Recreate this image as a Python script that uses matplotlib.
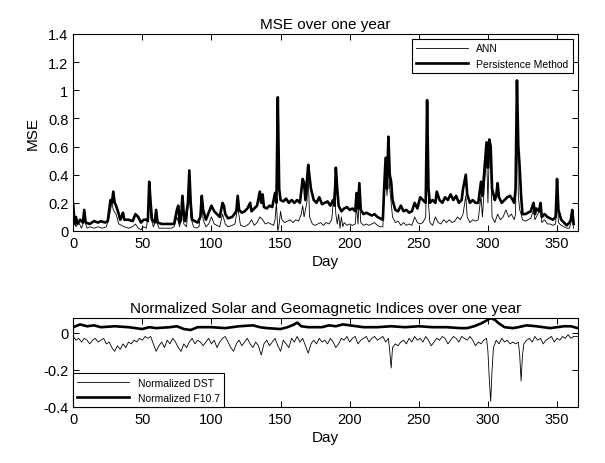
import matplotlib
matplotlib.use("Agg")
import matplotlib.pyplot as plt
from matplotlib.ticker import FormatStrFormatter

plt.rcParams['font.family'] = ['Liberation Sans', 'DejaVu Sans']

# MSE over one year (top panel)
pm_day = [0, 1, 2, 3, 5, 7, 8, 9, 12, 15, 18, 20, 23, 25, 26, 27, 28, 29, 30, 31, 33, 34, 35, 36, 37, 40,
          43, 45, 47, 49, 51, 53, 54, 55, 56, 57, 59, 60, 61, 64, 67, 70, 73, 75, 76, 77, 78, 79, 80, 81,
          83, 84, 85, 86, 88, 90, 92, 93, 94, 96, 98, 100, 102, 104, 106, 108, 109, 110, 112, 115, 118,
          119, 120, 122, 124, 126, 128, 129, 131, 133, 135, 136, 137, 138, 140, 142, 144, 146, 147, 148,
          149, 150, 152, 154, 156, 158, 160, 162, 164, 166, 167, 168, 170, 171, 172, 174, 176, 178, 180,
          182, 184, 186, 188, 189, 190, 191, 192, 194, 196, 198, 200, 202, 204, 205, 206, 207, 208, 210,
          212, 214, 216, 218, 220, 222, 224, 225, 226, 227, 228, 229, 230, 231, 233, 235, 237, 239, 241,
          243, 245, 247, 249, 251, 253, 255, 256, 257, 258, 260, 262, 263, 265, 267, 269, 271, 273, 275,
          277, 279, 281, 282, 284, 285, 287, 289, 291, 293, 295, 296, 298, 299, 300, 301, 302, 303, 305,
          306, 307, 308, 310, 312, 314, 316, 318, 319, 320, 321, 322, 323, 324, 325, 327, 329, 331, 333,
          334, 335, 337, 338, 339, 341, 343, 345, 347, 349, 350, 351, 353, 355, 357, 359, 360, 361, 362]
pm_mse = [0.19, 0.05, 0.10, 0.05, 0.08, 0.06, 0.15, 0.06, 0.05, 0.07, 0.06, 0.07, 0.06, 0.07, 0.15, 0.22,
          0.20, 0.28, 0.20, 0.18, 0.12, 0.08, 0.10, 0.13, 0.08, 0.08, 0.07, 0.12, 0.10, 0.06, 0.08, 0.08,
          0.07, 0.35, 0.20, 0.08, 0.06, 0.15, 0.06, 0.05, 0.05, 0.05, 0.05, 0.15, 0.18, 0.06, 0.08, 0.25,
          0.12, 0.07, 0.20, 0.43, 0.20, 0.08, 0.07, 0.06, 0.10, 0.25, 0.15, 0.08, 0.13, 0.18, 0.14, 0.12,
          0.10, 0.20, 0.18, 0.12, 0.09, 0.10, 0.14, 0.25, 0.15, 0.13, 0.14, 0.16, 0.20, 0.14, 0.16, 0.18,
          0.28, 0.20, 0.26, 0.17, 0.16, 0.18, 0.17, 0.27, 0.20, 0.95, 0.30, 0.22, 0.21, 0.23, 0.20, 0.22,
          0.20, 0.22, 0.20, 0.37, 0.34, 0.22, 0.47, 0.38, 0.30, 0.22, 0.20, 0.24, 0.19, 0.20, 0.21, 0.18,
          0.22, 0.18, 0.45, 0.30, 0.18, 0.14, 0.16, 0.17, 0.15, 0.16, 0.14, 0.27, 0.16, 0.34, 0.15, 0.12,
          0.13, 0.12, 0.11, 0.12, 0.10, 0.09, 0.08, 0.32, 0.52, 0.30, 0.67, 0.40, 0.35, 0.22, 0.15, 0.14,
          0.18, 0.14, 0.15, 0.13, 0.14, 0.20, 0.16, 0.24, 0.22, 0.20, 0.93, 0.30, 0.20, 0.22, 0.20, 0.28,
          0.22, 0.20, 0.24, 0.22, 0.26, 0.22, 0.25, 0.20, 0.22, 0.30, 0.40, 0.26, 0.20, 0.22, 0.20, 0.20,
          0.35, 0.25, 0.50, 0.63, 0.45, 0.65, 0.60, 0.30, 0.22, 0.25, 0.34, 0.24, 0.20, 0.22, 0.24, 0.25,
          0.22, 0.20, 0.30, 1.07, 0.60, 0.45, 0.25, 0.12, 0.12, 0.13, 0.14, 0.20, 0.12, 0.16, 0.14, 0.20,
          0.10, 0.12, 0.10, 0.09, 0.08, 0.10, 0.37, 0.15, 0.08, 0.06, 0.04, 0.06, 0.08, 0.15, 0.05]

ann_day = [0, 2, 4, 6, 8, 10, 12, 15, 18, 21, 24, 26, 28, 29, 31, 33, 35, 37, 40, 43, 45, 47, 49, 51, 53,
           55, 56, 58, 60, 62, 65, 68, 71, 73, 75, 77, 79, 80, 82, 84, 85, 87, 89, 91, 93, 94, 96, 98, 100,
           102, 104, 106, 108, 110, 112, 115, 117, 119, 121, 124, 127, 129, 131, 133, 135, 137, 139, 141,
           143, 145, 146, 147, 148, 149, 150, 151, 153, 155, 157, 159, 161, 163, 165, 166, 167, 169, 170,
           171, 173, 175, 177, 179, 181, 183, 185, 187, 189, 190, 191, 192, 193, 194, 195, 196, 198, 200,
           202, 204, 205, 206, 207, 208, 210, 212, 214, 216, 218, 220, 222, 224, 225, 226, 227, 228, 229,
           230, 231, 233, 235, 237, 239, 241, 243, 245, 247, 249, 251, 253, 255, 256, 257, 258, 260, 262,
           264, 266, 268, 270, 272, 274, 276, 278, 280, 282, 284, 285, 287, 289, 291, 293, 295, 296, 298,
           299, 300, 301, 302, 303, 305, 307, 309, 311, 313, 315, 317, 319, 320, 321, 322, 323, 324, 325,
           327, 329, 331, 333, 334, 336, 338, 339, 341, 343, 345, 347, 349, 350, 351, 353, 355, 357, 359,
           361, 362]
ann_mse = [0.08, 0.03, 0.06, 0.02, 0.08, 0.02, 0.03, 0.02, 0.03, 0.02, 0.03, 0.10, 0.20, 0.15, 0.12, 0.05,
           0.04, 0.03, 0.02, 0.03, 0.05, 0.02, 0.01, 0.03, 0.02, 0.20, 0.10, 0.03, 0.08, 0.02, 0.02, 0.02,
           0.02, 0.03, 0.10, 0.03, 0.18, 0.05, 0.03, 0.30, 0.10, 0.03, 0.02, 0.03, 0.20, 0.08, 0.03, 0.05,
           0.10, 0.05, 0.04, 0.03, 0.12, 0.05, 0.03, 0.04, 0.05, 0.17, 0.04, 0.03, 0.05, 0.08, 0.04, 0.06,
           0.10, 0.08, 0.05, 0.06, 0.05, 0.04, 0.08, 0.20, 0.00, 0.05, 0.14, 0.08, 0.06, 0.07, 0.08, 0.06,
           0.08, 0.07, 0.12, 0.18, 0.10, 0.20, 0.38, 0.10, 0.05, 0.04, 0.05, 0.06, 0.04, 0.06, 0.05, 0.08,
           0.30, 0.12, 0.05, 0.12, 0.02, 0.10, 0.03, 0.06, 0.04, 0.05, 0.04, 0.05, 0.18, 0.05, 0.26, 0.06,
           0.04, 0.05, 0.04, 0.05, 0.06, 0.04, 0.03, 0.03, 0.28, 0.40, 0.25, 0.50, 0.30, 0.20, 0.10, 0.06,
           0.07, 0.04, 0.06, 0.04, 0.05, 0.04, 0.10, 0.06, 0.05, 0.06, 0.10, 0.85, 0.20, 0.06, 0.04, 0.10,
           0.06, 0.05, 0.08, 0.06, 0.08, 0.06, 0.07, 0.10, 0.08, 0.12, 0.25, 0.10, 0.06, 0.08, 0.07, 0.08,
           0.25, 0.10, 0.40, 0.55, 0.20, 0.55, 0.50, 0.10, 0.06, 0.12, 0.08, 0.10, 0.15, 0.10, 0.12, 0.08,
           0.12, 0.95, 0.25, 0.15, 0.12, 0.08, 0.07, 0.08, 0.09, 0.15, 0.08, 0.12, 0.15, 0.06, 0.08, 0.05,
           0.05, 0.04, 0.05, 0.28, 0.06, 0.04, 0.03, 0.02, 0.02, 0.10, 0.02]

# Normalized indices (bottom panel)
f107_day = [0, 5, 10, 15, 20, 30, 40, 50, 55, 60, 70, 75, 80, 85, 90, 100, 110, 120, 130, 135, 140, 150,
            155, 160, 162, 165, 170, 180, 185, 190, 195, 200, 205, 210, 220, 230, 240, 250, 260, 270, 280,
            285, 290, 295, 300, 302, 305, 308, 312, 318, 322, 328, 335, 340, 345, 350, 355, 360, 365]
f107_val = [0.030, 0.045, 0.035, 0.040, 0.030, 0.035, 0.030, 0.020, 0.030, 0.025, 0.030, 0.035, 0.020,
            0.015, 0.030, 0.030, 0.025, 0.035, 0.040, 0.030, 0.025, 0.020, 0.030, 0.045, 0.055, 0.035,
            0.030, 0.030, 0.040, 0.035, 0.045, 0.040, 0.035, 0.030, 0.030, 0.035, 0.030, 0.035, 0.030,
            0.030, 0.025, 0.025, 0.035, 0.050, 0.070, 0.078, 0.070, 0.050, 0.030, 0.025, 0.030, 0.040,
            0.035, 0.030, 0.025, 0.030, 0.035, 0.035, 0.025]

dst_day = [0, 2, 4, 6, 8, 10, 12, 14, 16, 18, 20, 22, 24, 26, 28, 30, 32, 34, 36, 38, 40, 42, 44, 46, 48,
           50, 52, 54, 56, 58, 60, 62, 64, 66, 68, 70, 72, 74, 76, 78, 80, 82, 84, 86, 88, 90, 92, 94, 96,
           98, 100, 102, 104, 106, 108, 110, 112, 114, 116, 118, 120, 122, 124, 126, 128, 130, 132, 134,
           136, 138, 140, 142, 144, 146, 148, 150, 152, 154, 156, 158, 160, 162, 164, 166, 168, 170, 172,
           174, 176, 178, 180, 182, 184, 186, 188, 190, 192, 194, 196, 198, 200, 202, 204, 206, 208, 210,
           212, 214, 216, 218, 220, 222, 224, 226, 228, 229, 230, 231, 233, 235, 237, 239, 241, 243, 245,
           247, 249, 251, 253, 255, 257, 259, 261, 263, 265, 267, 269, 271, 273, 275, 277, 279, 281, 283,
           285, 287, 289, 291, 293, 295, 297, 299, 300, 301, 302, 303, 304, 306, 308, 310, 312, 314, 316,
           318, 320, 322, 323, 324, 325, 326, 328, 330, 332, 334, 336, 338, 340, 342, 344, 346, 348, 350,
           352, 354, 356, 358, 360, 362, 365]
dst_val = [-0.02, -0.04, -0.03, -0.05, -0.03, -0.04, -0.06, -0.04, -0.03, -0.05, -0.04, -0.03, -0.06,
           -0.05, -0.08, -0.10, -0.07, -0.09, -0.06, -0.08, -0.05, -0.06, -0.04, -0.05, -0.03, -0.04,
           -0.02, -0.03, -0.02, -0.06, -0.10, -0.07, -0.05, -0.08, -0.04, -0.06, -0.03, -0.05, -0.08,
           -0.10, -0.06, -0.08, -0.05, -0.03, -0.06, -0.04, -0.05, -0.07, -0.05, -0.03, -0.06, -0.04,
           -0.08, -0.05, -0.03, -0.02, -0.05, -0.08, -0.10, -0.06, -0.04, -0.07, -0.05, -0.03, -0.06,
           -0.08, -0.05, -0.07, -0.12, -0.06, -0.04, -0.07, -0.05, -0.03, -0.07, -0.10, -0.04, -0.06,
           -0.08, -0.03, -0.05, -0.02, -0.05, -0.03, -0.07, -0.11, -0.06, -0.04, -0.06, -0.03, -0.05,
           -0.04, -0.06, -0.03, -0.05, -0.08, -0.06, -0.03, -0.04, -0.02, -0.05, -0.03, -0.02, -0.06,
           -0.04, -0.03, -0.02, -0.05, -0.03, -0.02, -0.04, -0.03, -0.02, -0.05, -0.03, -0.10, -0.19,
           -0.08, -0.06, -0.07, -0.05, -0.04, -0.06, -0.03, -0.05, -0.02, -0.04, -0.03, -0.05, -0.02,
           -0.04, -0.07, -0.05, -0.03, -0.04, -0.02, -0.03, -0.06, -0.04, -0.02, -0.03, -0.05, -0.02,
           -0.03, -0.04, -0.02, -0.04, -0.07, -0.05, -0.06, -0.04, -0.03, -0.10, -0.25, -0.37, -0.20,
           -0.08, -0.04, -0.06, -0.03, -0.05, -0.04, -0.06, -0.05, -0.06, -0.05, -0.12, -0.26, -0.12,
           -0.06, -0.04, -0.03, -0.05, -0.02, -0.04, -0.03, -0.06, -0.04, -0.03, -0.02, -0.05, -0.03,
           -0.04, -0.02, -0.03, -0.01, -0.03, -0.02, -0.02]

x_ticks = [0, 50, 100, 150, 200, 250, 300, 350]


def style_axes(ax):
    # MATLAB-like box with inward ticks on every side
    ax.tick_params(direction='in', top=True, right=True, labelsize=10.5, length=4, width=0.7)
    for sp in ax.spines.values():
        sp.set_linewidth(0.8)
    ax.yaxis.set_major_formatter(FormatStrFormatter('%g'))
    ax.set_xlim(0, 365)
    ax.set_xticks(x_ticks)


fig = plt.figure(figsize=(6.05, 4.64), dpi=100)

ax1 = fig.add_axes([0.121, 0.5, 0.834, 0.4246])
ax1.plot(ann_day, ann_mse, color='black', linewidth=0.6, label='ANN')
ax1.plot(pm_day, pm_mse, color='black', linewidth=1.9, label='Persistence Method')
style_axes(ax1)
ax1.set_ylim(0, 1.4)
ax1.set_yticks([0, 0.2, 0.4, 0.6, 0.8, 1.0, 1.2, 1.4])
ax1.set_title('MSE over one year', fontsize=11, pad=4)
ax1.set_xlabel('Day', fontsize=11, labelpad=3)
ax1.set_ylabel('MSE', fontsize=11, labelpad=6)
leg1 = ax1.legend(loc='upper right', fontsize=7.5, fancybox=False, framealpha=1,
                  edgecolor='black', handlelength=5, borderaxespad=0.5)
leg1.get_frame().set_linewidth(0.8)

ax2 = fig.add_axes([0.121, 0.1207, 0.834, 0.192])
ax2.plot(dst_day, dst_val, color='black', linewidth=0.6, label='Normalized DST')
ax2.plot(f107_day, f107_val, color='black', linewidth=1.9, label='Normalized F10.7')
style_axes(ax2)
ax2.set_ylim(-0.4, 0.08)
ax2.set_yticks([-0.4, -0.2, 0])
ax2.set_title('Normalized Solar and Geomagnetic Indices over one year', fontsize=11, pad=4)
ax2.set_xlabel('Day', fontsize=11, labelpad=3)
leg2 = ax2.legend(loc='lower left', fontsize=7.5, fancybox=False, framealpha=1,
                  edgecolor='black', handlelength=5, borderaxespad=0.0)
leg2.get_frame().set_linewidth(0.8)

fig.savefig('out.png', dpi=100)
